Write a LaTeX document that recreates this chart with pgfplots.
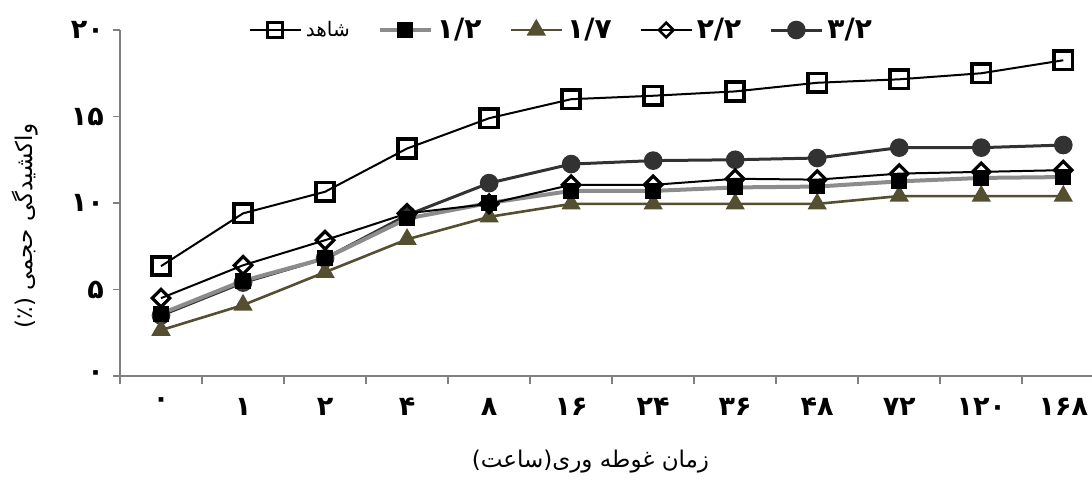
\documentclass[border=0pt]{standalone}
\usepackage{pgfplots}
\pgfplotsset{compat=1.18}
\usepackage{fontspec}
\TeXXeTstate=1
\newfontfamily\fa[Script=Arabic]{DejaVu Sans}
\definecolor{olivedark}{RGB}{84,79,48}
\definecolor{midgray}{RGB}{140,140,140}
\definecolor{darkgray3}{RGB}{50,50,50}
\definecolor{axisgray}{RGB}{128,128,128}

% swelling (%) versus immersion time, one row per time step
\pgfplotstableread{
x  c      a      b      d      e
0  6.35   3.6    2.65   4.5    3.5
1  9.4    5.5    4.1    6.4    5.4
2  10.65  6.8    6.0    7.85   6.8
3  13.15  9.1    7.9    9.4    9.3
4  14.9   10.0   9.2    9.95   11.15
5  16.0   10.7   9.95   11.05  12.25
6  16.2   10.7   9.95   11.05  12.45
7  16.45  10.9   9.95   11.4   12.5
8  16.95  10.95  9.95   11.35  12.6
9  17.15  11.25  10.4   11.7   13.2
10 17.5   11.45  10.4   11.8   13.2
11 18.25  11.5   10.4   11.9   13.35
}\swell

\pgfplotsset{
  ctrl/.style={black, line width=1pt, mark=square, mark size=4.6pt,
    mark options={fill=white, line width=1.9pt, solid}},
  sa/.style={midgray, line width=2pt, mark=square*, mark size=3.7pt,
    mark options={fill=black, draw=black, line width=0.5pt}},
  sb/.style={olivedark, line width=1.3pt, mark=triangle*, mark size=4.3pt,
    mark options={fill=olivedark, draw=olivedark}},
  sd/.style={black, line width=1pt, mark=square, mark size=3.1pt,
    mark options={rotate=45, fill=white, line width=1.6pt}},
  se/.style={darkgray3, line width=1.5pt, mark=*, mark size=3.9pt,
    mark options={fill=darkgray3, draw=darkgray3}},
}

\begin{document}
\begin{tikzpicture}
\useasboundingbox (0,0) rectangle (546pt,244pt);
\begin{axis}[
  at={(60pt,56pt)}, anchor=south west,
  scale only axis, width=486pt, height=173pt,
  xmin=-0.5, xmax=11.35, ymin=0, ymax=20,
  axis lines=left,
  axis line style={-, axisgray, line width=0.8pt},
  every tick/.style={axisgray, line width=0.8pt},
  tick align=outside,
  xtick={0,...,11},
  xticklabels={۰,۱,۲,۴,۸,۱۶,۲۴,۳۶,۴۸,۷۲,۱۲۰,۱۶۸},
  major x tick style={draw=none},
  minor xtick={-0.5,0.5,...,10.5},
  minor tick length=4pt,
  ytick={0,5,10,15,20},
  yticklabels={۰,۵,۱۰,۱۵,۲۰},
  major tick length=3.5pt,
  xticklabel style={font=\fa\bfseries\fontsize{13.5}{13.5}\selectfont, yshift=-4pt},
  yticklabel style={font=\fa\bfseries\fontsize{13.5}{13.5}\selectfont, xshift=-1pt},
  xlabel={\fa\beginR زمان غوطه وری(ساعت)\endR},
  x label style={at={(axis description cs:0.484,-0.2486)}, anchor=center,
    font=\fontsize{11.5}{11.5}\selectfont},
  ylabel={\fa\beginR واکشیدگی حجمی (٪)\endR},
  y label style={at={(axis description cs:-0.0977,0.434)}, anchor=center,
    font=\fontsize{11.5}{11.5}\selectfont},
  clip=false,
  legend columns=5,
  legend style={draw=none, fill=none, at={(axis description cs:0.455,1.0)}, anchor=center,
    font=\fa\bfseries\fontsize{14}{14}\selectfont,
    /tikz/every even column/.append style={column sep=12pt}},
  legend image code/.code={\draw[mark repeat=2, mark phase=2] plot coordinates {(0cm,0cm) (0.45cm,0cm) (0.9cm,0cm)};},
]
% drawing order: lower-lying series first, diamonds on top
\addplot[ctrl, forget plot] table[x=x, y=c] {\swell};
\addplot[se, forget plot] table[x=x, y=e] {\swell};
\addplot[sb, forget plot] table[x=x, y=b] {\swell};
\addplot[sa, forget plot] table[x=x, y=a] {\swell};
\addplot[sd, forget plot] table[x=x, y=d] {\swell};

\addlegendimage{ctrl, mark size=3.8pt, mark options={fill=white, line width=1.4pt, solid}}
\addlegendentry{{\mdseries\fontsize{10}{10}\selectfont\beginR شاهد\endR}}
\addlegendimage{sa}
\addlegendentry{۱/۲}
\addlegendimage{sb}
\addlegendentry{۱/۷}
\addlegendimage{sd, mark size=2.6pt, mark options={rotate=45, fill=white, line width=1.3pt}}
\addlegendentry{۲/۲}
\addlegendimage{se}
\addlegendentry{۳/۲}
\end{axis}
\end{tikzpicture}
\end{document}
